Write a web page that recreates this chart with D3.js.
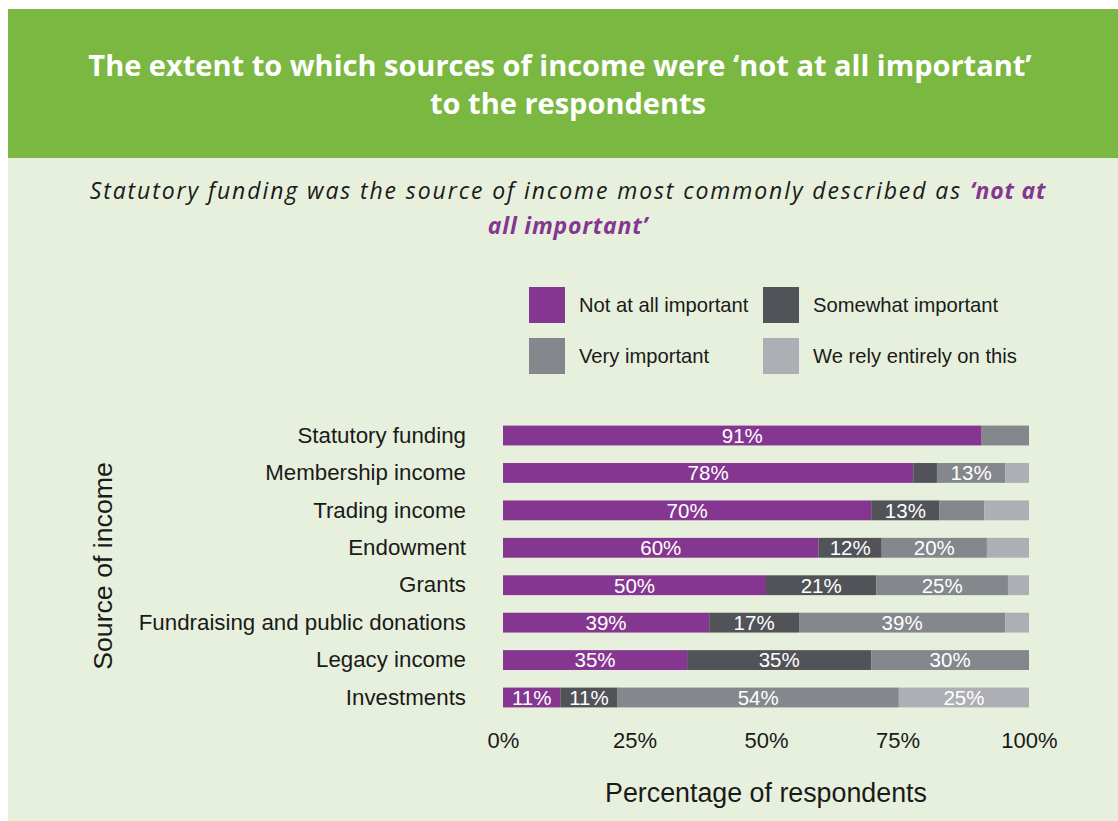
<!DOCTYPE html>
<html>
<head>
<meta charset="utf-8">
<script src="https://cdn.jsdelivr.net/npm/d3@7"></script>
<style>
  html, body { margin: 0; padding: 0; background: #ffffff; }
  svg { display: block; }
</style>
</head>
<body>
<svg id="chart" width="1118" height="821"></svg>
<script>
// Sources of income, top to bottom
const categories = [
  "Statutory funding",
  "Membership income",
  "Trading income",
  "Endowment",
  "Grants",
  "Fundraising and public donations",
  "Legacy income",
  "Investments"
];

// Importance levels (stack order, left to right)
const seriesNames = [
  "Not at all important",
  "Somewhat important",
  "Very important",
  "We rely entirely on this"
];

// Percentage of respondents per level, one value per category
const notAtAll   = [91, 78, 70, 60, 50, 39, 35, 11];
const somewhat   = [0, 4.5, 13, 12, 21, 17, 35, 11];
const very       = [9, 13, 8.5, 20, 25, 39, 30, 54];
const relyOnThis = [0, 4.5, 8.5, 8, 4, 4.5, 0, 25];

const xTicks = [0, 0.25, 0.5, 0.75, 1];
const xTickLabels = ["0%", "25%", "50%", "75%", "100%"];

const colors = ["#853691", "#515358", "#84878c", "#adafb5"];

const rows = categories.map((c, i) => ({
  category: c,
  [seriesNames[0]]: notAtAll[i],
  [seriesNames[1]]: somewhat[i],
  [seriesNames[2]]: very[i],
  [seriesNames[3]]: relyOnThis[i]
}));

const svg = d3.select("#chart");
const sans = "'Liberation Sans', Arial, sans-serif";

// Panel backgrounds
svg.append("rect").attr("x", 8).attr("y", 158).attr("width", 1110).attr("height", 663).attr("fill", "#e7f0dc");
svg.append("rect").attr("x", 8).attr("y", 9).attr("width", 1110).attr("height", 149).attr("fill", "#7ab842");

// Header title
const title = svg.append("text")
  .attr("text-anchor", "middle")
  .attr("fill", "#ffffff")
  .attr("font-family", "'Open Sans', sans-serif")
  .attr("font-weight", 700)
  .attr("font-size", 29);
title.append("tspan").attr("x", 560).attr("y", 76).text("The extent to which sources of income were \u2018not at all important\u2019");
title.append("tspan").attr("x", 568).attr("y", 114).text("to the respondents");

// Subtitle
const sub = svg.append("text")
  .attr("text-anchor", "middle")
  .attr("font-family", "'Open Sans', sans-serif")
  .attr("font-style", "italic")
  .attr("font-size", 23)
  .attr("letter-spacing", 1.9)
  .attr("fill", "#1a1a1a");
const l1 = sub.append("tspan").attr("x", 568).attr("y", 199);
l1.append("tspan").text("Statutory funding was the source of income most commonly described as ");
l1.append("tspan").attr("fill", "#853691").attr("font-weight", 700).attr("letter-spacing", 0.8).text("\u2018not at");
sub.append("tspan").attr("x", 568).attr("y", 234).attr("fill", "#853691").attr("font-weight", 700).attr("letter-spacing", 0.8).text("all important\u2019");

// Legend
const legendItems = seriesNames.map((name, i) => ({
  name, color: colors[i],
  col: i % 2, row: Math.floor(i / 2)
}));
const lg = svg.append("g").selectAll("g").data(legendItems).join("g")
  .attr("transform", d => `translate(${d.col === 0 ? 529 : 763},${d.row === 0 ? 287 : 338})`);
lg.append("rect").attr("width", 36).attr("height", 36).attr("fill", d => d.color);
lg.append("text").attr("x", 50).attr("y", 25)
  .attr("font-family", sans).attr("font-size", 20.2).attr("fill", "#1a1a1a")
  .text(d => d.name);

// Scales
const x = d3.scaleLinear().domain([0, 1]).range([503, 1029]);
const y = d3.scaleBand().domain(categories).range([408, 725]).paddingInner(0.47).paddingOuter(0.47);

const stack = d3.stack().keys(seriesNames).offset(d3.stackOffsetExpand);
const stacked = stack(rows);

const layers = svg.append("g").selectAll("g").data(stacked).join("g")
  .attr("fill", (d, i) => colors[i]);

layers.selectAll("rect").data(d => d.map(s => ({ s, key: d.key }))).join("rect")
  .attr("x", d => x(d.s[0]))
  .attr("y", d => y(d.s.data.category))
  .attr("width", d => Math.max(0, x(d.s[1]) - x(d.s[0])))
  .attr("height", y.bandwidth());

// Value labels inside segments of 10% or more
layers.selectAll("text").data(d => d.map(s => ({ s, key: d.key })).filter(d => d.s.data[d.key] >= 10)).join("text")
  .attr("x", d => (x(d.s[0]) + x(d.s[1])) / 2)
  .attr("y", d => y(d.s.data.category) + y.bandwidth() / 2)
  .attr("dy", "0.36em")
  .attr("text-anchor", "middle")
  .attr("font-family", sans)
  .attr("font-size", 20.5)
  .attr("fill", "#ffffff")
  .text(d => Math.round(d.s.data[d.key]) + "%");

// Category axis
const yAxis = svg.append("g")
  .attr("transform", "translate(466,0)")
  .call(d3.axisLeft(y).tickSize(0).tickPadding(0));
yAxis.select(".domain").remove();
yAxis.selectAll("text").attr("font-family", sans).attr("font-size", 22.3).attr("fill", "#1a1a1a");

// Percentage axis
const xAxis = svg.append("g")
  .attr("transform", "translate(0,732)")
  .call(d3.axisBottom(x).tickValues(xTicks).tickFormat((d, i) => xTickLabels[i]).tickSize(0).tickPadding(0));
xAxis.select(".domain").remove();
xAxis.selectAll("text").attr("font-family", sans).attr("font-size", 22).attr("fill", "#1a1a1a");

// Axis titles
svg.append("text")
  .attr("transform", "translate(112,566) rotate(-90)")
  .attr("text-anchor", "middle")
  .attr("font-family", sans).attr("font-size", 26.7).attr("fill", "#1a1a1a")
  .text("Source of income");
svg.append("text")
  .attr("x", 766).attr("y", 802)
  .attr("text-anchor", "middle")
  .attr("font-family", sans).attr("font-size", 26.8).attr("fill", "#1a1a1a")
  .text("Percentage of respondents");
</script>
</body>
</html>
